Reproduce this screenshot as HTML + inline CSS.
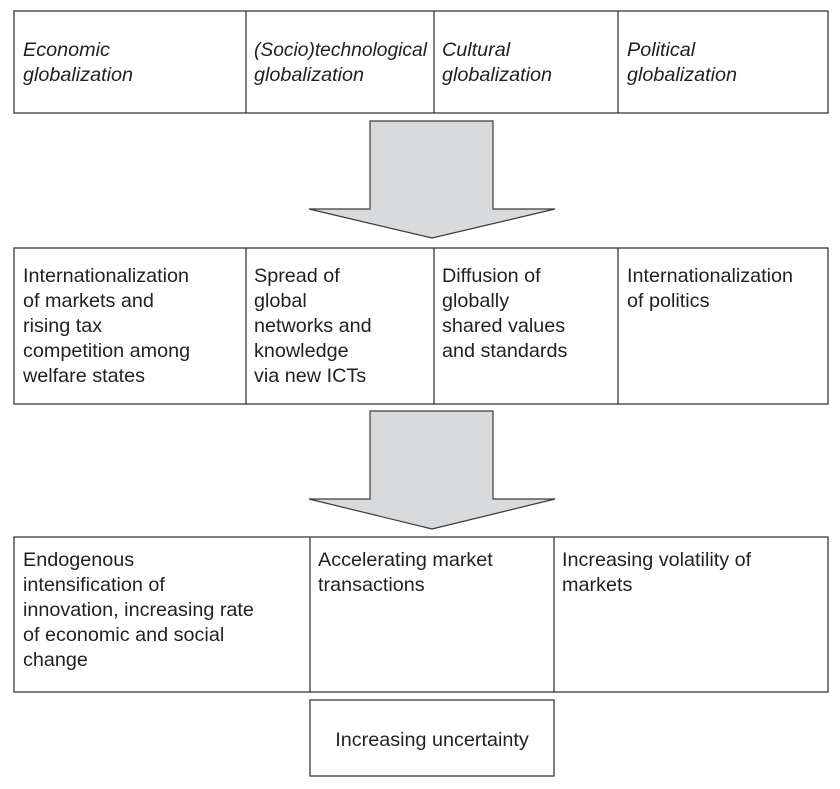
<!DOCTYPE html>
<html><head><style>body{margin:0;background:#fff}svg{display:block}</style></head><body>
<svg width="840" height="789" viewBox="0 0 840 789" xmlns="http://www.w3.org/2000/svg" font-family="Liberation Sans, Arial, sans-serif" font-size="19.8" fill="#231f20">
<g fill="none" stroke="#3a3a3a" stroke-width="1.3">
<rect x="14" y="11" width="814" height="102"/>
<line x1="246" y1="11" x2="246" y2="113"/><line x1="434" y1="11" x2="434" y2="113"/><line x1="618" y1="11" x2="618" y2="113"/>
<rect x="14" y="248" width="814" height="156"/>
<line x1="246" y1="248" x2="246" y2="404"/><line x1="434" y1="248" x2="434" y2="404"/><line x1="618" y1="248" x2="618" y2="404"/>
<rect x="14" y="537" width="814" height="155"/>
<line x1="310" y1="537" x2="310" y2="692"/><line x1="554" y1="537" x2="554" y2="692"/>
<rect x="310" y="700" width="244" height="76"/>
</g>
<g fill="#d9dadc" stroke="#3a3a3a" stroke-width="1.2">
<polygon points="370,121 493,121 493,209 555,209 432,238 309,209 370,209"/>
<polygon points="370,411 493,411 493,499 555,499 432,529 309,499 370,499"/>
</g>
<g font-style="italic">
<text x="23" y="56">Economic</text><text x="23" y="81">globalization</text>
<text x="254" y="56" textLength="173" lengthAdjust="spacingAndGlyphs">(Socio)technological</text><text x="254" y="81">globalization</text>
<text x="442" y="56">Cultural</text><text x="442" y="81">globalization</text>
<text x="627" y="56">Political</text><text x="627" y="81">globalization</text>
</g>
<text x="23" y="282">Internationalization</text><text x="23" y="307">of markets and</text><text x="23" y="332">rising tax</text><text x="23" y="357">competition among</text><text x="23" y="382">welfare states</text>
<text x="254" y="282">Spread of</text><text x="254" y="307">global</text><text x="254" y="332">networks and</text><text x="254" y="357">knowledge</text><text x="254" y="382">via new ICTs</text>
<text x="442" y="282">Diffusion of</text><text x="442" y="307">globally</text><text x="442" y="332">shared values</text><text x="442" y="357">and standards</text>
<text x="627" y="282">Internationalization</text><text x="627" y="307">of politics</text>
<text x="23" y="566">Endogenous</text><text x="23" y="591">intensification of</text><text x="23" y="616">innovation, increasing rate</text><text x="23" y="641">of economic and social</text><text x="23" y="666">change</text>
<text x="318" y="566">Accelerating market</text><text x="318" y="591">transactions</text>
<text x="562" y="566">Increasing volatility of</text><text x="562" y="591">markets</text>
<text x="432" y="746" text-anchor="middle">Increasing uncertainty</text>
</svg>
</body></html>
